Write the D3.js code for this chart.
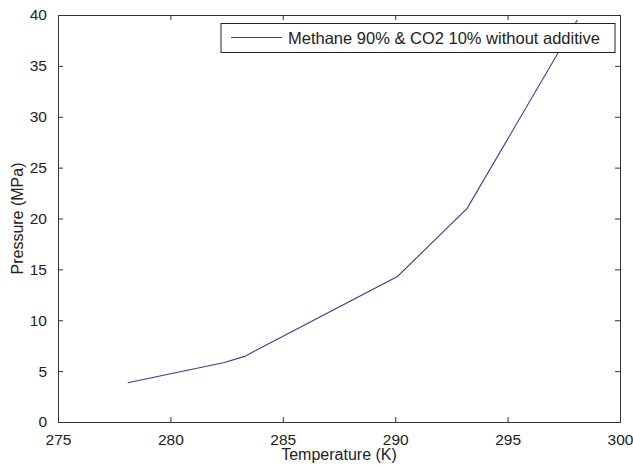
<!DOCTYPE html>
<html lang="en">
<head>
<meta charset="utf-8">
<title>Pressure vs Temperature</title>
<script src="https://d3js.org/d3.v7.min.js"></script>
<style>
  body { margin: 0; background: #fff; }
  text { font-family: "Liberation Sans", Arial, sans-serif; fill: #222; }
  .axis path, .axis line { stroke: #333; }
</style>
</head>
<body>
<script>
// data
var temps = [278.1, 282.4, 283.3, 290.1, 293.2, 298.1];
var pressures = [3.85, 5.85, 6.45, 14.3, 21.0, 39.5];
var xTicks = [275, 280, 285, 290, 295, 300];
var yTicks = [0, 5, 10, 15, 20, 25, 30, 35, 40];
var seriesName = "Methane 90% & CO2 10% without additive";

var width = 633, height = 467;
var margin = {top: 15, right: 13, bottom: 45, left: 58};

var svg = d3.select("body").append("svg")
  .attr("width", width)
  .attr("height", height);

var x = d3.scaleLinear().domain([275, 300]).range([margin.left, width - margin.right]);
var y = d3.scaleLinear().domain([0, 40]).range([height - margin.bottom, margin.top]);

// white plot area
svg.append("rect")
  .attr("x", x(275)).attr("y", y(40))
  .attr("width", x(300) - x(275)).attr("height", y(0) - y(40))
  .attr("fill", "#fff");

// bottom axis with labels
var gx = svg.append("g")
  .attr("class", "axis")
  .attr("transform", "translate(0," + y(0) + ")")
  .call(d3.axisBottom(x).tickValues(xTicks).tickSize(-5).tickPadding(12).tickFormat(d3.format("d")));
gx.selectAll("text").style("font-size", "15.5px").attr("fill", "#222");

// left axis with labels
var gy = svg.append("g")
  .attr("class", "axis")
  .attr("transform", "translate(" + x(275) + ",0)")
  .call(d3.axisLeft(y).tickValues(yTicks).tickSize(-5).tickPadding(11).tickFormat(d3.format("d")));
gy.selectAll("text").style("font-size", "15.5px").attr("fill", "#222");

// top and right box lines with inward ticks
svg.append("g")
  .attr("class", "axis")
  .attr("transform", "translate(0," + y(40) + ")")
  .call(d3.axisTop(x).tickValues(xTicks).tickSize(-5).tickFormat(""));
svg.append("g")
  .attr("class", "axis")
  .attr("transform", "translate(" + x(300) + ",0)")
  .call(d3.axisRight(y).tickValues(yTicks).tickSize(-5).tickFormat(""));

svg.selectAll(".axis .domain").attr("stroke", "#333");

// the series
var line = d3.line()
  .x(function(d, i) { return x(temps[i]); })
  .y(function(d) { return y(d); });

svg.append("path")
  .datum(pressures)
  .attr("d", line)
  .attr("fill", "none")
  .attr("stroke", "#3c3c8e")
  .attr("stroke-width", 1.1);

// axis titles
svg.append("text")
  .attr("x", (x(275) + x(300)) / 2)
  .attr("y", 460)
  .attr("text-anchor", "middle")
  .style("font-size", "16px")
  .text("Temperature (K)");

svg.append("text")
  .attr("transform", "translate(23," + (y(0) + y(40)) / 2 + ") rotate(-90)")
  .attr("text-anchor", "middle")
  .style("font-size", "16px")
  .text("Pressure (MPa)");

// legend
var lg = svg.append("g");
lg.append("rect")
  .attr("x", 221).attr("y", 23.5)
  .attr("width", 394).attr("height", 29)
  .attr("fill", "#fff")
  .attr("stroke", "#222");
lg.append("line")
  .attr("x1", 231).attr("x2", 282)
  .attr("y1", 37.5).attr("y2", 37.5)
  .attr("stroke", "#3c3c8e")
  .attr("stroke-width", 1.1);
lg.append("text")
  .attr("x", 288).attr("y", 43.5)
  .style("font-size", "16.5px")
  .text(seriesName);
</script>
</body>
</html>
